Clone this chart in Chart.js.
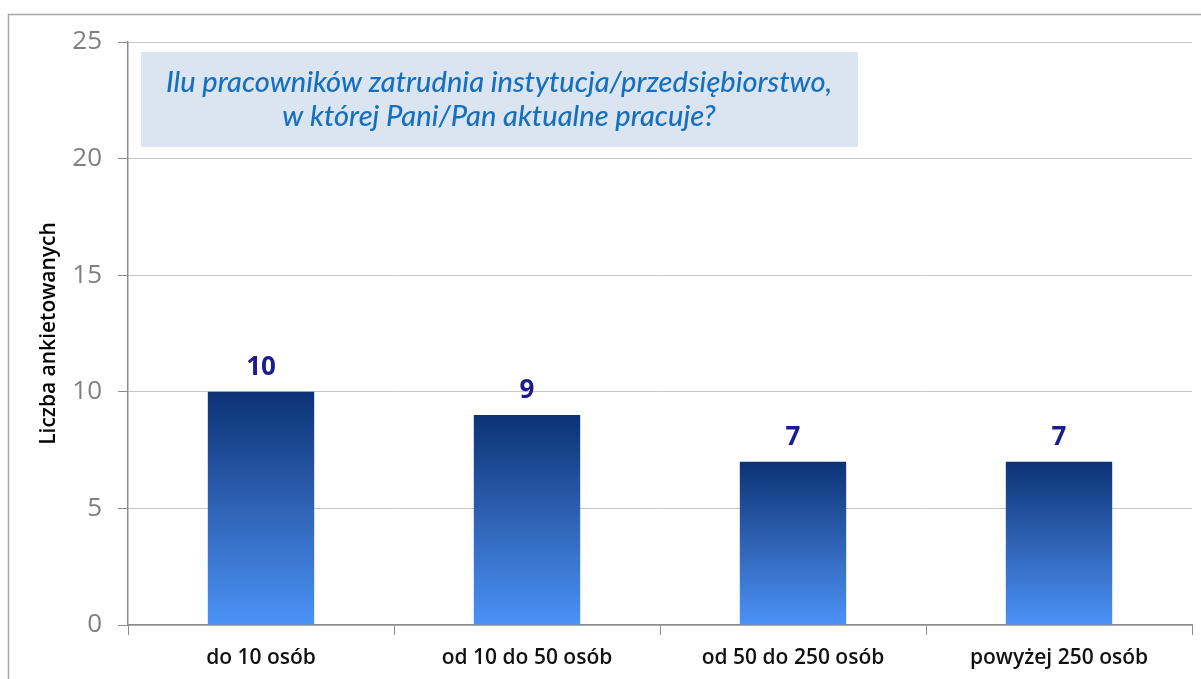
<!DOCTYPE html>
<html>
<head>
<meta charset="utf-8">
<script src="https://cdn.jsdelivr.net/npm/chart.js@4"></script>
<style>
  html, body { margin: 0; padding: 0; background: #fff; }
  #wrap { width: 1201px; height: 679px; }
</style>
</head>
<body>
<div id="wrap"><canvas id="empChart" width="1201" height="679"></canvas></div>
<script>
const categories = ['do 10 osób', 'od 10 do 50 osób', 'od 50 do 250 osób', 'powyżej 250 osób'];
const respondents = [10, 9, 7, 7];
const yMax = 25;
const yStep = 5;
const titleLines = ['Ilu pracowników zatrudnia instytucja/przedsiębiorstwo,', 'w której Pani/Pan aktualne pracuje?'];
const yTitle = 'Liczba ankietowanych';

// gradient per bar, dark at top, light at bottom
function barGradient(ctx) {
  const chart = ctx.chart;
  if (!chart.chartArea || ctx.parsed === undefined) return '#2c63b8';
  const y = chart.scales.y;
  const top = y.getPixelForValue(ctx.parsed.y);
  const bottom = y.getPixelForValue(0);
  const g = chart.ctx.createLinearGradient(0, top, 0, bottom);
  g.addColorStop(0, '#0c3275');
  g.addColorStop(0.5, '#2f63b5');
  g.addColorStop(1, '#4b92f7');
  return g;
}

const frameAndTitle = {
  id: 'frameAndTitle',
  beforeDraw(chart) {
    const c = chart.ctx;
    c.save();
    c.strokeStyle = '#a6a6a6';
    c.lineWidth = 1.5;
    c.strokeRect(8.5, 14.5, 1400, 900);
    c.restore();
  },
  afterDraw(chart) {
    const c = chart.ctx;
    c.save();
    c.fillStyle = '#dbe5f1';
    c.fillRect(141, 52, 717, 95);
    c.fillStyle = '#1670bd';
    c.font = 'italic 500 29px Lato';
    c.textAlign = 'center';
    c.textBaseline = 'middle';
    c.fillText(titleLines[0], 499, 83);
    c.fillText(titleLines[1], 499, 117);
    c.restore();
  }
};

const valueLabels = {
  id: 'valueLabels',
  afterDatasetsDraw(chart) {
    const c = chart.ctx;
    const meta = chart.getDatasetMeta(0);
    c.save();
    c.fillStyle = '#1c1c8a';
    c.font = 'bold 26px "Open Sans"';
    c.textAlign = 'center';
    c.textBaseline = 'alphabetic';
    meta.data.forEach((bar, i) => {
      c.fillText(respondents[i], bar.x, bar.y - 17);
    });
    c.restore();
  }
};

new Chart(document.getElementById('empChart'), {
  type: 'bar',
  data: {
    labels: categories,
    datasets: [{
      label: yTitle,
      data: respondents,
      backgroundColor: barGradient,
      categoryPercentage: 1,
      barPercentage: 0.4
    }]
  },
  options: {
    responsive: false,
    animation: false,
    layout: { padding: { top: 42, right: 9, left: 0, bottom: 0 } },
    plugins: {
      legend: { display: false },
      tooltip: { enabled: false }
    },
    scales: {
      x: {
        grid: { offset: true, drawOnChartArea: false, color: '#8c8c8c', tickLength: 10 },
        border: { color: '#8c8c8c', width: 1.5 },
        ticks: { color: '#111', font: { family: 'Open Sans', size: 21, weight: 600 }, padding: 10 },
        afterFit(s) { s.height = 54; }
      },
      y: {
        min: 0,
        max: yMax,
        ticks: { stepSize: yStep, color: '#7f7f7f', font: { family: 'Open Sans', size: 26, weight: 500 }, padding: 16 },
        grid: { color: '#c6c6c6', tickColor: '#8c8c8c', tickLength: 10 },
        border: { color: '#8c8c8c', width: 1.5 },
        title: {
          display: true,
          text: yTitle,
          color: '#000',
          font: { family: 'Open Sans', size: 21, weight: 600 },
          padding: { top: 36, bottom: 0 }
        },
        afterFit(s) { s.width = 128; }
      }
    }
  },
  plugins: [frameAndTitle, valueLabels]
});
</script>
</body>
</html>
